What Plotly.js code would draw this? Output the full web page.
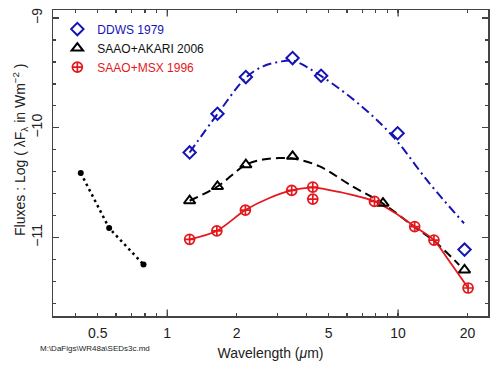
<!DOCTYPE html>
<html>
<head>
<meta charset="utf-8">
<script src="https://cdn.plot.ly/plotly-3.0.1.min.js"></script>
<style>html,body{margin:0;padding:0;background:#fff;}#chart{width:497px;height:373px;}</style>
</head>
<body>
<div id="chart"></div>
<script>
// ---- data ----
var ddwsX = [1.25, 1.65, 2.19, 3.49, 4.64, 9.95, 19.4];
var ddwsY = [-10.225, -9.872, -9.538, -9.365, -9.526, -10.05, -11.11];
var ddwsFitX = [1.25, 1.65, 2.2, 2.6, 3.05, 3.5, 4.65, 7.0, 9.6, 13.6, 19.3];
var ddwsFitY = [-10.225, -9.875, -9.54, -9.44, -9.40, -9.39, -9.53, -9.81, -10.09, -10.50, -10.87];

var akariX = [1.25, 1.65, 2.19, 3.49, 8.6, 19.4];
var akariY = [-10.665, -10.535, -10.337, -10.26, -10.687, -11.296];
var akariFitX = [1.25, 1.65, 2.2, 2.6, 3.05, 3.5, 4.55, 6.34, 8.6, 11.7, 14.3, 18.4];
var akariFitY = [-10.665, -10.535, -10.335, -10.29, -10.276, -10.28, -10.35, -10.534, -10.69, -10.90, -11.03, -11.25];

var msxX = [1.25, 1.64, 2.18, 3.46, 4.27, 4.27, 7.9, 11.8, 14.3, 20.1];
var msxY = [-11.016, -10.94, -10.75, -10.571, -10.54, -10.65, -10.671, -10.90, -11.023, -11.46];
var msxFitX = [1.25, 1.64, 2.18, 2.77, 3.46, 4.27, 5.55, 7.9, 9.6, 11.8, 14.3, 16.6, 20.1];
var msxFitY = [-11.016, -10.94, -10.75, -10.64, -10.571, -10.545, -10.585, -10.671, -10.77, -10.90, -11.023, -11.21, -11.46];

var optX = [0.422, 0.56, 0.789];
var optY = [-10.413, -10.914, -11.246];

var xTickVals = [0.5, 1, 2, 5, 10, 20];
var xTickText = ['0.5', '1', '2', '5', '10', '20'];
var xMinorVals = [0.4, 0.6, 0.7, 0.8, 0.9, 3, 4, 6, 7, 8, 9];
var xDecades = [1, 10];
var yTickVals = [-9, -10, -11];

var names = ['DDWS 1979', 'SAAO+AKARI 2006', 'SAAO+MSX 1996'];

// ---- styling ----
var BLUE = '#1414b4', RED = '#e4171c', BLACK = '#000000', AX = '#444444';

var traces = [
  {x: optX, y: optY, mode: 'lines', line: {color: BLACK, width: 2.5, dash: '2.5px,3.5px'}, showlegend: false, hoverinfo: 'skip'},
  {x: optX, y: optY, mode: 'markers', marker: {color: BLACK, size: 6, symbol: 'circle'}, showlegend: false},
  {x: ddwsFitX, y: ddwsFitY, mode: 'lines', line: {color: BLUE, width: 2, dash: '9px,4px,2px,4px', shape: 'spline', smoothing: 1}, showlegend: false, hoverinfo: 'skip'},
  {x: akariFitX, y: akariFitY, mode: 'lines', line: {color: BLACK, width: 2, dash: '9px,5px', shape: 'spline', smoothing: 1}, showlegend: false, hoverinfo: 'skip'},
  {x: msxFitX, y: msxFitY, mode: 'lines', line: {color: RED, width: 1.8, shape: 'spline', smoothing: 0.8}, showlegend: false, hoverinfo: 'skip'},
  {x: ddwsX, y: ddwsY, mode: 'markers', name: '<span style="color:' + BLUE + '">' + names[0] + '</span>',
   marker: {symbol: 'diamond-open', size: 9.5, color: BLUE, line: {width: 2, color: BLUE}}},
  {x: akariX, y: akariY, mode: 'markers', name: names[1],
   marker: {symbol: 'triangle-up-open', size: 10, color: BLACK, line: {width: 2, color: BLACK}}},
  {x: msxX, y: msxY, mode: 'markers', name: '<span style="color:' + RED + '">' + names[2] + '</span>',
   marker: {symbol: 'circle-cross-open', size: 10, color: RED, line: {width: 1.7, color: RED}}}
];

var shapes = [];
xDecades.forEach(function (v) {
  shapes.push({type: 'line', xref: 'x', yref: 'paper', x0: v, x1: v, y0: 0, y1: 0.021, line: {color: AX, width: 1.3}});
  shapes.push({type: 'line', xref: 'x', yref: 'paper', x0: v, x1: v, y0: 1, y1: 0.979, line: {color: AX, width: 1.3}});
});

var layout = {
  width: 497, height: 373,
  margin: {l: 53, r: 9, t: 10, b: 57},
  paper_bgcolor: '#ffffff', plot_bgcolor: '#ffffff',
  font: {family: 'Liberation Sans, Arial, sans-serif', color: '#222222', size: 14},
  showlegend: true,
  legend: {x: 0.01, y: 0.985, xanchor: 'left', yanchor: 'top', bgcolor: 'rgba(0,0,0,0)',
           font: {size: 12, color: '#111111'}, itemwidth: 30, tracegroupgap: 0},
  xaxis: {
    type: 'log', range: [-0.495, 1.3895],
    tickmode: 'array', tickvals: xTickVals, ticktext: xTickText,
    ticks: 'inside', ticklen: 3, tickwidth: 1.3, tickcolor: AX,
    minor: {tickmode: 'array', tickvals: xMinorVals, ticks: 'inside', ticklen: 3, tickwidth: 1.3, tickcolor: AX},
    showline: true, linecolor: AX, linewidth: 1.5, mirror: 'ticks',
    showgrid: false, zeroline: false,
    tickfont: {size: 14, color: '#222222'},
    ticklabelstandoff: 4,
    title: {text: 'Wavelength (<i>μ</i>m)', font: {size: 14, color: '#222222'}, standoff: 8}
  },
  yaxis: {
    range: [-11.715, -8.927],
    tickmode: 'array', tickvals: yTickVals,
    ticks: 'inside', ticklen: 6, tickwidth: 1.3, tickcolor: AX,
    minor: {tickmode: 'linear', tick0: -11, dtick: 0.2, ticks: 'inside', ticklen: 3, tickwidth: 1.3, tickcolor: AX},
    showline: true, linecolor: AX, linewidth: 1.5, mirror: 'ticks',
    showgrid: false, zeroline: false,
    tickangle: -90,
    tickfont: {size: 14, color: '#222222'},
    ticklabelstandoff: 4
  },
  shapes: shapes,
  annotations: [
    {xref: 'paper', yref: 'paper', x: -0.076, y: 0.5425, xanchor: 'center', yanchor: 'middle', textangle: -90,
     showarrow: false, text: 'Fluxes : Log ( λF<sub>λ</sub> in Wm<sup>−2</sup> )', font: {size: 14, color: '#222222'}},
    {xref: 'paper', yref: 'paper', x: -0.0345, y: -0.1046, xanchor: 'left', yanchor: 'middle',
     showarrow: false, text: 'M:\\DaFigs\\WR48a\\SEDs3c.md', font: {size: 8, color: '#222222'}}
  ]
};

Plotly.newPlot('chart', traces, layout, {displayModeBar: false, staticPlot: true});
</script>
</body>
</html>
